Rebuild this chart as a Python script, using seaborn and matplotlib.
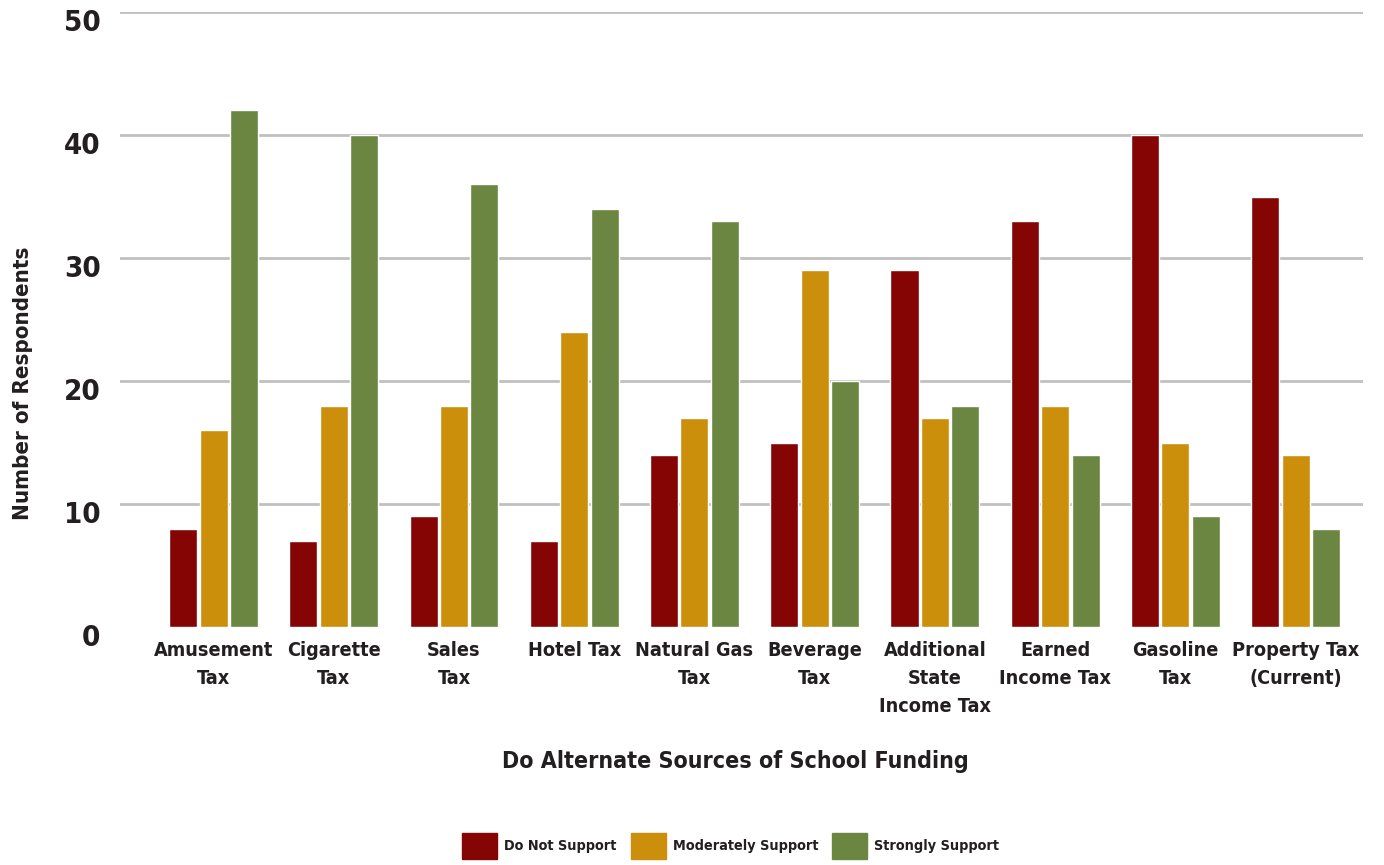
import pandas as pd
import seaborn as sns
import matplotlib
matplotlib.use("Agg")
import matplotlib.pyplot as plt
from matplotlib import font_manager
from matplotlib.font_manager import FontProperties
from matplotlib.textpath import TextPath
from matplotlib.transforms import ScaledTranslation

# ------------------------------
# data
# ------------------------------
taxes = ["Amusement\nTax", "Cigarette\nTax", "Sales\nTax", "Hotel Tax",
         "Natural Gas\nTax", "Beverage\nTax", "Additional\nState\nIncome Tax",
         "Earned\nIncome Tax", "Gasoline\nTax", "Property Tax\n(Current)"]
levels = ["Do Not Support", "Moderately Support", "Strongly Support"]
do_not_support = [8, 7, 9, 7, 14, 15, 29, 33, 40, 35]
moderately_support = [16, 18, 18, 24, 17, 29, 17, 18, 15, 14]
strongly_support = [42, 40, 36, 34, 33, 20, 18, 14, 9, 8]
colors = ["#850404", "#cb8f0c", "#6b8641"]
y_ticks = [0, 10, 20, 30, 40, 50]

rows = []
for lvl, vals in zip(levels, [do_not_support, moderately_support, strongly_support]):
    for t, v in zip(taxes, vals):
        rows.append({"tax": t, "level": lvl, "count": v})
df = pd.DataFrame(rows)

# ------------------------------
# font: look for a bold narrow / condensed face
# ------------------------------
sns.set_style("white")


def wnum(w):
    if isinstance(w, str):
        return font_manager.weight_dict.get(w, 400)
    return int(w)


fonts = font_manager.fontManager.ttflist
best = None
for f in fonts:
    narrow = ("Narrow" in f.name or "Condensed" in f.name
              or str(f.stretch) in ("condensed", "semi-condensed", "extra-condensed"))
    if not narrow or f.style != "normal":
        continue
    score = abs(wnum(f.weight) - 700)
    if best is None or score < best[0]:
        best = (score, f.name, str(f.stretch), wnum(f.weight))
if best is not None:
    fam, stretch, wt = best[1], best[2], best[3]
else:
    fam, stretch, wt = "Roboto", "normal", 700
plt.rcParams["font.family"] = [fam, "DejaVu Sans"]
plt.rcParams["font.weight"] = wt
plt.rcParams["font.stretch"] = stretch
text_col = "#231f20"
FP = FontProperties(family=fam, weight=wt, stretch=stretch)


def fit_width(s, target_px):
    # font size (pt) that makes s about target_px wide at dpi 100
    w = TextPath((0, 0), s, size=100, prop=FP).get_extents().width
    return 72 * target_px / w


def fit_height(s, target_px):
    h = TextPath((0, 0), s, size=100, prop=FP).get_extents().height
    return 72 * target_px / h


fs_x = fit_width("Amusement", 119)
fs_y = (fit_width("50", 29) + fit_height("50", 25)) / 2
fs_ylab = 0.7 * fit_width("Number of Respondents", 243) + 0.3 * fit_height("N", 20)
fs_xlab = 0.7 * fit_width("Do Alternate Sources of School Funding", 438) + 0.3 * fit_height("D", 19)
fs_leg = fit_width("Do Not Support", 112)

fig = plt.figure(figsize=(13.84, 8.65), dpi=100)
ax = fig.add_axes([120 / 1384, 1 - 627 / 865, 1243 / 1384, 615 / 865])

sns.barplot(data=df, x="tax", y="count", hue="level", palette=colors,
            saturation=1, width=0.76, gap=0.08, ax=ax, legend=False)

ax.set_ylim(0, 50)
ax.set_xlim(-0.778, 9.56)
ax.set_yticks(y_ticks)
ax.yaxis.grid(True, color="#c0c0c0", linewidth=2)
ax.set_axisbelow(True)
ax.yaxis.get_gridlines()[0].set_visible(False)
for s in ax.spines.values():
    s.set_visible(False)

ax.tick_params(axis="y", length=0, pad=14, labelsize=fs_y, labelcolor=text_col)
ax.tick_params(axis="x", length=0, pad=10, labelsize=fs_x, labelcolor=text_col)
for lab in ax.get_xticklabels():
    lab.set_linespacing(1.6)
    lab.set_fontweight(wt)
# y numbers sit a little below their grid lines in the reference
shift = ScaledTranslation(0, -8 / 100, fig.dpi_scale_trans)
for tk in ax.yaxis.get_major_ticks():
    tk.label1.set_fontweight(wt)
    tk.label1.set_transform(tk.label1.get_transform() + shift)

ax.set_ylabel("Number of Respondents", fontsize=fs_ylab, fontweight=wt, color=text_col)
ax.yaxis.set_label_coords(-0.070, 0.397)
ax.set_xlabel("Do Alternate Sources of School Funding", fontsize=fs_xlab,
              fontweight=wt, color=text_col, va="center")
ax.xaxis.set_label_coords(0.495, -0.2195)

# legend at the bottom
px_leg = fs_leg * 100 / 72
handles = [plt.Rectangle((0, 0), 1, 1, color=c) for c in colors]
fig.legend(handles, levels, loc="center", bbox_to_anchor=(0.528, 0.022),
           ncol=3, frameon=False, fontsize=fs_leg,
           handlelength=35 / px_leg, handleheight=34 / px_leg,
           handletextpad=7 / px_leg, columnspacing=14 / px_leg, labelcolor=text_col)

fig.savefig("out.png", dpi=100)
